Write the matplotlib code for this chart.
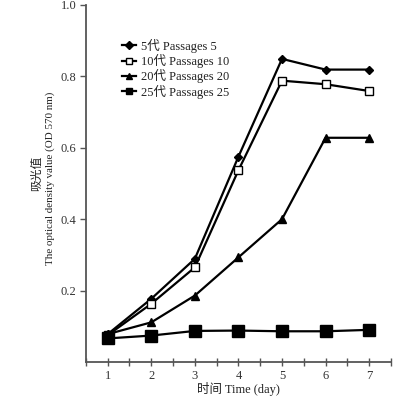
import matplotlib
matplotlib.use('Agg')
import matplotlib.pyplot as plt
from matplotlib.ticker import MultipleLocator

plt.rcParams['font.family'] = ['Liberation Serif', 'Noto Sans CJK SC']

# data
days = [1, 2, 3, 4, 5, 6, 7]
p5 = [0.078, 0.177, 0.289, 0.575, 0.849, 0.819, 0.819]
p10 = [0.075, 0.163, 0.265, 0.537, 0.788, 0.778, 0.759]
p20 = [0.078, 0.111, 0.186, 0.293, 0.400, 0.628, 0.628]
p25 = [0.066, 0.074, 0.087, 0.088, 0.086, 0.086, 0.090]
labels = ['5代 Passages 5', '10代 Passages 10', '20代 Passages 20', '25代 Passages 25']

fig = plt.figure(figsize=(4.15, 3.98), dpi=100)
ax = fig.add_axes([0.207, 0.0905, 0.735, 0.897])

ax.plot(days, p5, color='black', lw=1.6, marker='D', ms=4, mfc='black', label=labels[0])
ax.plot(days, p10, color='black', lw=1.6, marker='s', ms=6, mfc='white', mec='black', mew=1.0, label=labels[1])
ax.plot(days, p20, color='black', lw=1.6, marker='^', ms=5.5, mfc='black', label=labels[2])
ax.plot(days, p25, color='black', lw=1.6, marker='s', ms=8, mfc='black', label=labels[3])

ax.set_xlim(0.5, 7.5)
ax.set_ylim(0, 1.0)
ax.xaxis.set_major_locator(MultipleLocator(1))
ax.xaxis.set_minor_locator(MultipleLocator(0.5))
ax.set_yticks([0.2, 0.4, 0.6, 0.8, 1.0])
ax.set_yticklabels(['0.2', '0.4', '0.6', '0.8', '1.0'])

for s in ['top', 'right']:
    ax.spines[s].set_visible(False)
for s in ['left', 'bottom']:
    ax.spines[s].set_color('#555555')
    ax.spines[s].set_linewidth(1.3)

ax.tick_params(axis='x', which='both', direction='inout', length=6, width=1, color='#555555',
               labelsize=9, labelcolor='#333333', pad=3)
ax.tick_params(axis='y', direction='out', length=4, width=1, color='#555555',
               labelsize=9, labelcolor='#333333', pad=3)

ax.set_xlabel('时间 Time (day)', fontsize=9, color='#222222', labelpad=0)
fig.text(0.089, 0.565, '吸光值', rotation=90, ha='center', va='center', fontsize=8.5, color='#222222')
fig.text(0.121, 0.553, 'The optical density value (OD 570 nm)', rotation=90,
         ha='center', va='center', fontsize=7.9, color='#222222')

leg = ax.legend(loc='upper left', bbox_to_anchor=(0.09, 0.93), frameon=False, fontsize=9,
                handlelength=1.1, handletextpad=0.4, labelspacing=0.1, borderpad=0.2)
for t in leg.get_texts():
    t.set_color('#222222')
for h in leg.legend_handles:
    h.set_markersize(4)

fig.savefig('out.png', dpi=100)
